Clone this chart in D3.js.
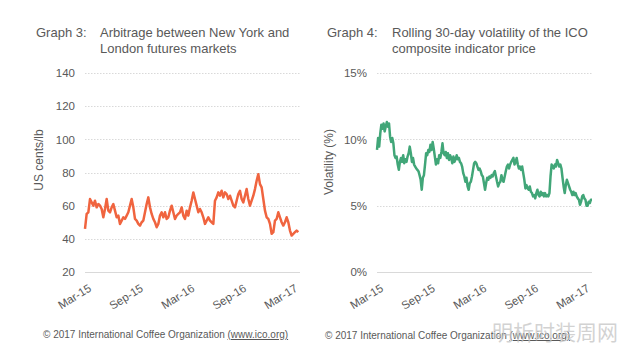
<!DOCTYPE html>
<html>
<head>
<meta charset="utf-8">
<script src="https://cdn.jsdelivr.net/npm/d3@7"></script>
<style>
  body { margin: 0; background: #fff; }
  svg { display: block; font-family: 'Liberation Sans', Arial, sans-serif; }
</style>
</head>
<body>
<svg id="chart" width="640" height="347"></svg>
<script>
'use strict';

/*
 * data
 */

// x axis tick labels (same on both charts)
var xTickLabels = ['Mar-15', 'Sep-15', 'Mar-16', 'Sep-16', 'Mar-17'];
var xTickDates = ['2015-03-01', '2015-09-01', '2016-03-01', '2016-09-01', '2017-03-01'];

// graph 3: arbitrage, US cents/lb
var arbitrageSpan = ['2015-03-01', '2017-03-26'];
var arbitrageValues = [
  46, 55, 56, 64, 62, 60, 63, 59, 61, 60,
  58, 53, 58, 64, 57, 56, 59, 61, 57, 53,
  54, 49, 51, 53, 52, 54, 56, 60, 64, 59,
  52, 51, 49, 48, 50, 51, 56, 61, 65, 59,
  55, 52, 50, 47, 49, 54, 56, 53, 56, 52,
  53, 57, 60, 56, 52, 54, 55, 56, 59, 54,
  52, 57, 54, 59, 63, 68, 64, 60, 56, 58,
  56, 53, 49, 51, 53, 51, 50, 49, 63, 65,
  68, 66, 69, 65, 68, 67, 64, 66, 63, 60,
  59, 63, 67, 69, 64, 62, 66, 70, 64, 60,
  63, 66, 70, 75, 79, 73, 71, 64, 57, 53,
  52, 49, 43, 44, 51, 52, 56, 53, 50, 48,
  50, 53, 50, 45, 42, 43, 44, 45, 44
];
var arbitrageTicks = [20, 40, 60, 80, 100, 120, 140];

// graph 4: rolling 30-day volatility, %
var volatilitySpan = ['2015-03-01', '2017-04-01'];
var volatilityValues = [
  9.2, 10.1, 9.45, 10.45, 11.1, 10.8, 11.2, 10.6, 10.95, 11.3,
  10.95, 11.2, 10.2, 9.8, 10.1, 9.7, 8.8, 8.6, 8.7, 8.1,
  7.7, 8.3, 8.6, 8.3, 8.8, 8.2, 8.5, 8.3, 8.7, 8.95,
  9.45, 8.95, 8.3, 8.6, 8.1, 7.95, 7.8, 7.7, 7.6, 7.3,
  6.95, 6.2, 7.1, 7.3, 8.1, 8.95, 8.8, 9.2, 9.05, 9.6,
  9.2, 9.8, 9.3, 8.7, 8.1, 8.5, 8.2, 8.8, 8.6, 9.05,
  9.7, 8.95, 8.8, 9.05, 8.6, 8.95, 8.45, 8.8, 8.6, 8.2,
  8.7, 8.3, 8.5, 8.8, 8.5, 8.6, 8.3, 8.2, 7.95, 7.45,
  7.2, 6.8, 7.1, 6.45, 6.2, 6.7, 6.8, 7.2, 7.7, 8.2,
  8.3, 8.2, 7.95, 7.7, 7.8, 7.6, 7.3, 7.2, 6.7, 6.2,
  6.7, 7.1, 6.95, 7.2, 7.1, 7.3, 7.2, 7.45, 7.6, 7.2,
  6.8, 6.45, 6.7, 6.8, 7.3, 6.95, 6.8, 7.2, 7.6, 7.95,
  8.1, 7.8, 8.1, 8.3, 8.45, 8.6, 8.1, 8.3, 8.6, 8.1,
  7.8, 7.95, 7.7, 7.95, 7.45, 6.95, 6.3, 6.55, 6.3, 6.2,
  6.45, 6.05, 5.95, 5.7, 5.8, 5.55, 5.95, 6.2, 5.8, 5.7,
  6.05, 5.8, 5.95, 5.7, 5.95, 5.7, 5.8, 5.7, 5.95, 7.2,
  8.1, 7.95, 7.8, 8.1, 7.95, 8.45, 8.2, 7.95, 8.1, 7.8,
  7.1, 6.45, 5.95, 6.55, 6.95, 6.7, 6.45, 6.2, 6.05, 5.8,
  6.05, 5.8, 5.95, 5.7, 5.55, 5.45, 5.07, 5.3, 5.7, 5.8,
  5.55, 5.45, 5.0, 5.0, 5.3, 5.2, 5.45, 5.45
];
var volatilityTicks = [0, 5, 10, 15];

var footerText = '\u00a9 2017 International Coffee Organization ';
var footerLink = '(www.ico.org)';

/*
 * drawing
 */

var svg = d3.select('#chart');
var textColor = '#595959';
var gridColor = '#d9d9d9';
var parseDate = d3.timeParse('%Y-%m-%d');

svg.append('rect').attr('width', 640).attr('height', 347).attr('fill', '#fff');

drawPanel({
  left: 85, right: 300, top: 73, bottom: 272,
  titleX: 36, titleIndentX: 100,
  titleLabel: 'Graph 3:',
  titleLines: ['Arbitrage between New York and', 'London futures markets'],
  yTitle: 'US cents/lb', yTitleX: 39, yTitleY: 160,
  yDomain: [20, 140], yTicks: arbitrageTicks,
  yFormat: function(d) { return d; },
  span: arbitrageSpan, values: arbitrageValues,
  color: '#f0643f',
  footerX: 43, footerY: 338
});

drawPanel({
  left: 377, right: 592, top: 73, bottom: 272,
  titleX: 327, titleIndentX: 392,
  titleLabel: 'Graph 4:',
  titleLines: ['Rolling 30-day volatility of the ICO', 'composite indicator price'],
  yTitle: 'Volatility (%)', yTitleX: 329, yTitleY: 162,
  yDomain: [0, 15], yTicks: volatilityTicks,
  yFormat: function(d) { return d + '%'; },
  span: volatilitySpan, values: volatilityValues,
  color: '#41a678',
  footerX: 325, footerY: 339
});

// watermark, bottom right (sits over the footer, as in the original)
svg.append('text')
  .attr('x', 492)
  .attr('y', 340)
  .attr('fill', '#c4c4c4')
  .attr('fill-opacity', 0.75)
  .style('font-family', "'Noto Sans CJK SC', sans-serif")
  .style('font-size', '21px')
  .text('明析时装周网');


function drawPanel(cfg) {
  var g = svg.append('g');

  var x = d3.scaleTime()
    .domain([parseDate('2015-03-01'), parseDate('2017-04-01')])
    .range([cfg.left, cfg.right]);

  var y = d3.scaleLinear()
    .domain(cfg.yDomain)
    .range([cfg.bottom, cfg.top]);

  // title
  var title = g.append('text')
    .attr('fill', textColor)
    .style('font-size', '13px');
  title.append('tspan').attr('x', cfg.titleX).attr('y', 37).text(cfg.titleLabel);
  cfg.titleLines.forEach(function(line, i) {
    title.append('tspan').attr('x', cfg.titleIndentX).attr('y', 37 + i * 16).text(line);
  });

  // gridlines (dotted) and baseline (solid)
  g.append('g').selectAll('line')
    .data(cfg.yTicks)
    .enter().append('line')
    .attr('x1', cfg.left)
    .attr('x2', cfg.right)
    .attr('y1', function(d) { return Math.round(y(d)) + 0.5; })
    .attr('y2', function(d) { return Math.round(y(d)) + 0.5; })
    .attr('stroke', gridColor)
    .attr('stroke-width', 1)
    .attr('stroke-dasharray', function(d) { return d === cfg.yDomain[0] ? null : '1.5,1.5'; });

  // y axis labels
  var yAxis = d3.axisLeft(y)
    .tickValues(cfg.yTicks)
    .tickFormat(cfg.yFormat)
    .tickSize(0)
    .tickPadding(10);
  var yg = g.append('g')
    .attr('transform', 'translate(' + cfg.left + ',0)')
    .call(yAxis);
  yg.select('.domain').remove();
  yg.selectAll('text')
    .attr('fill', textColor)
    .style('font-family', "'Liberation Sans', Arial, sans-serif")
    .style('font-size', '11.5px');

  // y axis title
  g.append('text')
    .attr('transform', 'translate(' + cfg.yTitleX + ',' + cfg.yTitleY + ') rotate(-90)')
    .attr('text-anchor', 'middle')
    .attr('dy', '0.35em')
    .attr('fill', textColor)
    .style('font-size', '12px')
    .text(cfg.yTitle);

  // x axis labels, rotated
  var xAxis = d3.axisBottom(x)
    .tickValues(xTickDates.map(parseDate))
    .tickFormat(function(d, i) { return xTickLabels[i]; })
    .tickSize(0);
  var xg = g.append('g')
    .attr('transform', 'translate(0,' + cfg.bottom + ')')
    .call(xAxis);
  xg.select('.domain').remove();
  xg.selectAll('text')
    .attr('fill', textColor)
    .style('font-family', "'Liberation Sans', Arial, sans-serif")
    .style('font-size', '11.5px')
    .attr('text-anchor', 'end')
    .attr('x', 0)
    .attr('y', 0)
    .attr('dy', '0.75em')
    .attr('transform', 'translate(2,11) rotate(-32)');

  // the series line
  var t0 = parseDate(cfg.span[0]).getTime();
  var t1 = parseDate(cfg.span[1]).getTime();
  var n = cfg.values.length;
  var points = cfg.values.map(function(v, i) {
    return { date: new Date(t0 + (t1 - t0) * i / (n - 1)), value: v };
  });

  var line = d3.line()
    .x(function(d) { return x(d.date); })
    .y(function(d) { return y(d.value); });

  g.append('path')
    .datum(points)
    .attr('d', line)
    .attr('fill', 'none')
    .attr('stroke', cfg.color)
    .attr('stroke-width', 2.5)
    .attr('stroke-linejoin', 'round');

  // copyright footer
  var footer = g.append('text')
    .attr('x', cfg.footerX)
    .attr('y', cfg.footerY)
    .attr('fill', textColor)
    .style('font-size', '10px');
  footer.append('tspan').text(footerText);
  footer.append('tspan').style('text-decoration', 'underline').text(footerLink);
}
</script>
</body>
</html>
